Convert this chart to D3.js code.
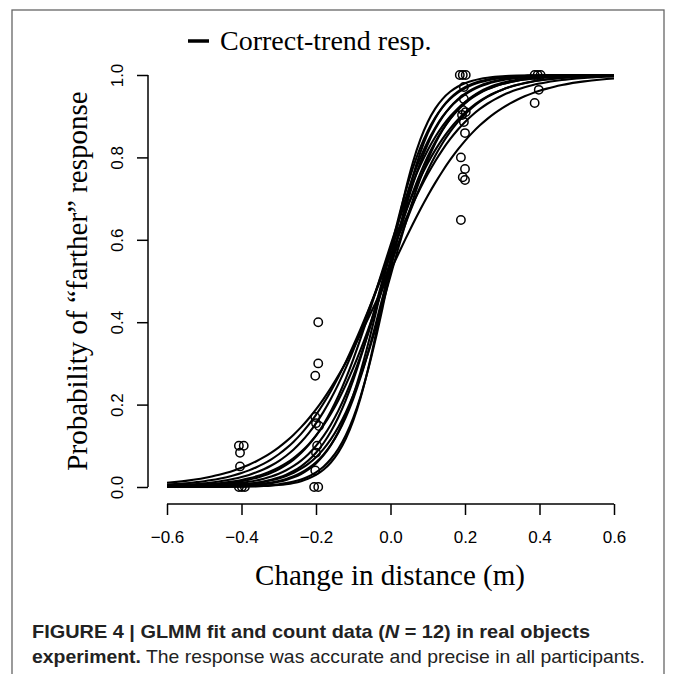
<!DOCTYPE html>
<html>
<head>
<meta charset="utf-8">
<script src="https://cdn.jsdelivr.net/npm/d3@7"></script>
<style>
  html, body { margin: 0; padding: 0; background: #fff; }
  svg { display: block; }
</style>
</head>
<body>
<svg id="chart" width="673" height="674"></svg>
<script>
// ---- data ----
const xTicks = [-0.6, -0.4, -0.2, 0.0, 0.2, 0.4, 0.6];
const yTicks = [0.0, 0.2, 0.4, 0.6, 0.8, 1.0];

// GLMM fitted curves per participant: logit(p) = intercept + slope * x
const curveIntercepts = [0.1, 0.25, 0.3, 0.15, 0.35, 0.2, 0.05, 0.3, 0.15, 0.3, 0.1, 0.2];
const curveSlopes     = [7.8, 9, 10, 10.5, 11.5, 12, 13, 13.5, 14.5, 15.5, 17, 18.5];
const curveXs = [-0.6, -0.58, -0.56, -0.54, -0.52, -0.5, -0.48, -0.46, -0.44, -0.42, -0.4, -0.38, -0.36, -0.34, -0.32, -0.3,
  -0.28, -0.26, -0.24, -0.22, -0.2, -0.18, -0.16, -0.14, -0.12, -0.1, -0.08, -0.06, -0.04, -0.02, 0,
  0.02, 0.04, 0.06, 0.08, 0.1, 0.12, 0.14, 0.16, 0.18, 0.2, 0.22, 0.24, 0.26, 0.28, 0.3,
  0.32, 0.34, 0.36, 0.38, 0.4, 0.42, 0.44, 0.46, 0.48, 0.5, 0.52, 0.54, 0.56, 0.58, 0.6];

// observed proportions (count data)
const pointX = [
  -0.407, -0.394, -0.404, -0.404, -0.407, -0.399, -0.391,
  -0.194, -0.194, -0.202, -0.202, -0.200, -0.192, -0.197, -0.200, -0.202, -0.205, -0.194,
  0.186, 0.194, 0.202, 0.197, 0.197, 0.194, 0.202, 0.192, 0.197, 0.200, 0.189, 0.200, 0.194, 0.200, 0.189,
  0.387, 0.395, 0.403, 0.398, 0.387
];
const pointY = [
  0.100, 0.100, 0.083, 0.050, 0.000, 0.000, 0.000,
  0.400, 0.300, 0.270, 0.170, 0.155, 0.148, 0.100, 0.083, 0.040, 0.000, 0.000,
  1.000, 1.000, 1.000, 0.971, 0.942, 0.915, 0.910, 0.903, 0.886, 0.859, 0.800, 0.772, 0.752, 0.745, 0.648,
  1.000, 1.000, 1.000, 0.964, 0.932
];

const legendLabel = "Correct-trend resp.";
const xTitle = "Change in distance (m)";
const yTitle = "Probability of \u201cfarther\u201d response";

// ---- drawing ----
const svg = d3.select("#chart");
const serif = "'Liberation Serif', 'Times New Roman', serif";
const sans = "'Liberation Sans', Arial, Helvetica, sans-serif";

// outer frame
svg.append("rect")
  .attr("x", 12).attr("y", 10).attr("width", 652).attr("height", 680)
  .attr("fill", "none").attr("stroke", "#666").attr("stroke-width", 1.3);

const x = d3.scaleLinear().domain([-0.6, 0.6]).range([167, 614]);
const y = d3.scaleLinear().domain([0, 1]).range([487, 75]);

// curves
const logistic = (a, b, xv) => 1 / (1 + Math.exp(-(a + b * xv)));
const line = d3.line().x(d => x(d[0])).y(d => y(d[1])).curve(d3.curveMonotoneX);
curveIntercepts.forEach((a, i) => {
  const b = curveSlopes[i];
  const pts = curveXs.map(xv => [xv, logistic(a, b, xv)]);
  svg.append("path")
    .attr("d", line(pts))
    .attr("fill", "none").attr("stroke", "#000").attr("stroke-width", 2.1);
});

// points
svg.append("g").selectAll("circle")
  .data(pointX.map((v, i) => [v, pointY[i]]))
  .join("circle")
  .attr("cx", d => x(d[0])).attr("cy", d => y(d[1])).attr("r", 4.2)
  .attr("fill", "none").attr("stroke", "#000").attr("stroke-width", 1.5);

// x axis
const xAxis = svg.append("g").attr("transform", "translate(0,504)")
  .call(d3.axisBottom(x).tickValues(xTicks).tickFormat(d3.format(".1f")).tickSize(11).tickPadding(16));
xAxis.select(".domain").attr("d", `M${x(-0.6)},0H${x(0.6)}`).attr("stroke-width", 1.5);
xAxis.selectAll(".tick line").attr("stroke-width", 1.5);
xAxis.selectAll(".tick text").attr("font-family", sans).attr("font-size", 17).attr("fill", "#000");

// y axis
const yAxis = svg.append("g").attr("transform", "translate(148,0)")
  .call(d3.axisLeft(y).tickValues(yTicks).tickFormat(d3.format(".1f")).tickSize(11));
yAxis.select(".domain").attr("d", `M0,${y(0)}V${y(1)}`).attr("stroke-width", 1.5);
yAxis.selectAll(".tick line").attr("stroke-width", 1.5);
yAxis.selectAll(".tick text")
  .attr("font-family", sans).attr("font-size", 17).attr("fill", "#000")
  .attr("x", null).attr("dy", null)
  .attr("text-anchor", "middle")
  .attr("transform", "translate(-25,0) rotate(-90)");

// axis titles
svg.append("text").attr("x", 390).attr("y", 585)
  .attr("text-anchor", "middle").attr("font-family", serif).attr("font-size", 29)
  .text(xTitle);
svg.append("text")
  .attr("transform", `translate(87,${(y(0) + y(1)) / 2}) rotate(-90)`)
  .attr("text-anchor", "middle").attr("font-family", serif).attr("font-size", 29)
  .text(yTitle);

// legend
svg.append("line").attr("x1", 188).attr("x2", 209).attr("y1", 41).attr("y2", 41)
  .attr("stroke", "#000").attr("stroke-width", 3.5);
svg.append("text").attr("x", 220).attr("y", 50)
  .attr("font-family", serif).attr("font-size", 28).text(legendLabel);

// caption
const cap1 = svg.append("text").attr("x", 32).attr("y", 638)
  .attr("font-family", sans).attr("font-size", 19).attr("font-weight", "bold").attr("fill", "#222")
  .attr("textLength", 558).attr("lengthAdjust", "spacingAndGlyphs");
cap1.append("tspan").text("FIGURE 4 | GLMM fit and count data (");
cap1.append("tspan").attr("font-style", "italic").text("N");
cap1.append("tspan").text(" = 12) in real objects");
const cap2 = svg.append("text").attr("x", 32).attr("y", 663)
  .attr("font-family", sans).attr("font-size", 19).attr("fill", "#222")
  .attr("textLength", 613).attr("lengthAdjust", "spacingAndGlyphs");
cap2.append("tspan").attr("font-weight", "bold").text("experiment.");
cap2.append("tspan").text(" The response was accurate and precise in all participants.");
</script>
</body>
</html>
